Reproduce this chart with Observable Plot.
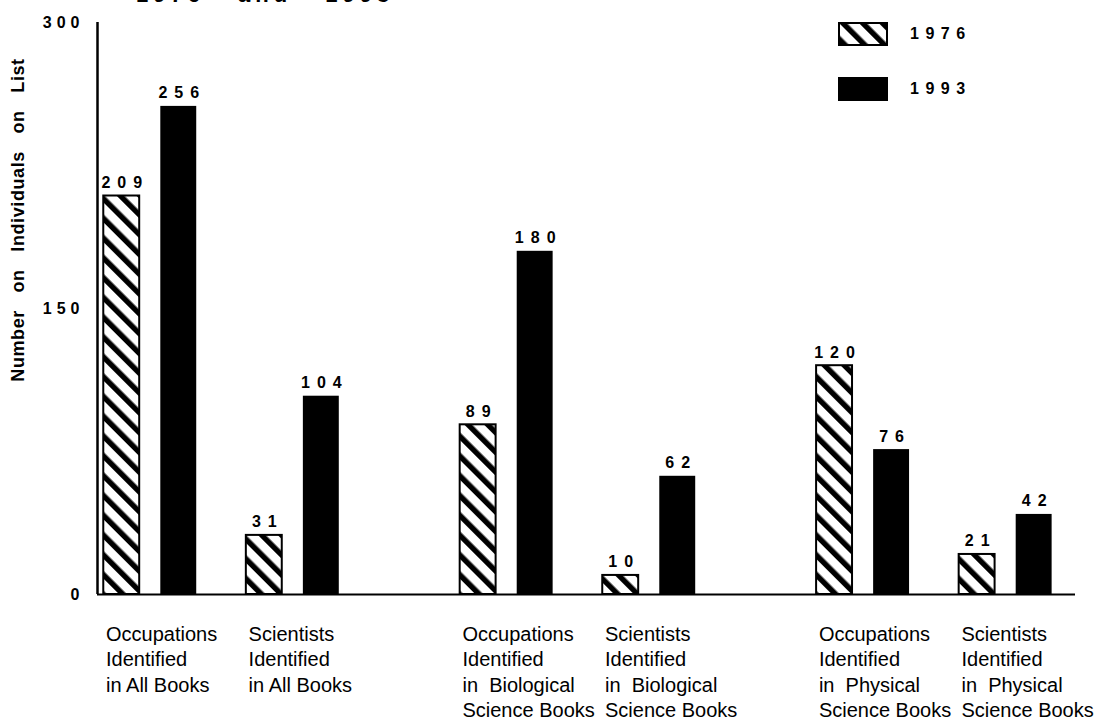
<!DOCTYPE html>
<html>
<head>
<meta charset="utf-8">
<script src="https://cdn.jsdelivr.net/npm/d3@7"></script>
<script src="https://cdn.jsdelivr.net/npm/@observablehq/plot@0.6"></script>
<style>
  html, body { margin: 0; padding: 0; background: #fff; }
  #wrap { position: relative; width: 1109px; height: 722px; overflow: hidden; font-family: "Liberation Sans", Arial, Helvetica, sans-serif; color: #000; }
  #wrap svg.chart { position: absolute; left: 0; top: 0; }
  .title-clip { position: absolute; left: 136px; top: 0; height: 4px; overflow: hidden; white-space: nowrap; }
  .title-clip span { position: relative; top: -16px; display: block; font-weight: bold; font-size: 22px; line-height: 22px; letter-spacing: 5px; word-spacing: 22px; }
  .ylabel { position: absolute; left: 18px; top: 220px; transform: translate(-50%, -50%) rotate(-90deg); white-space: nowrap; font-weight: bold; font-size: 18px; letter-spacing: 0.6px; word-spacing: 12px; }
  .legend-item { position: absolute; display: flex; align-items: center; }
  .legend-item .lab { margin-left: 22px; font-weight: bold; font-size: 16px; letter-spacing: 6.5px; }
  .vlab { letter-spacing: 7px; }
  g[aria-label="y-axis tick label"] text { letter-spacing: 5px; }
</style>
</head>
<body>
<div id="wrap"></div>
<script>
// ---- data ----
const categories = [
  "Occupations\nIdentified\nin All Books",
  "Scientists\nIdentified\nin All Books",
  "Occupations\nIdentified\nin  Biological\nScience Books",
  "Scientists\nIdentified\nin  Biological\nScience Books",
  "Occupations\nIdentified\nin  Physical\nScience Books",
  "Scientists\nIdentified\nin  Physical\nScience Books"
];
const years = ["1976", "1993"];
const values1976 = [209, 31, 89, 10, 120, 21];
const values1993 = [256, 104, 180, 62, 76, 42];
const yTicks = [0, 150, 300];
const yLabel = "Number on Individuals on List";
const titleText = "1976 and 1993";

// ---- layout helpers (pairs of categories are separated by a wider gap) ----
const pos = i => i + 0.5 * Math.floor(i / 2);
const barOffset = 0.2, halfW = 0.126;
const xDomain = [-0.37, 6.49];

const rows = [];
categories.forEach((c, i) => {
  rows.push({cat: c, i, year: years[0], value: values1976[i], x: pos(i) - barOffset});
  rows.push({cat: c, i, year: years[1], value: values1993[i], x: pos(i) + barOffset});
});
const r1976 = rows.filter(d => d.year === years[0]);
const r1993 = rows.filter(d => d.year === years[1]);
const catRows = categories.map((c, i) => ({cat: c, x: pos(i) - 0.31}));

const chart = Plot.plot({
  width: 1109,
  height: 722,
  marginTop: 22,
  marginBottom: 128,
  marginLeft: 97,
  marginRight: 34,
  style: {fontFamily: "'Liberation Sans', Arial, Helvetica, sans-serif", color: "#000", background: "#fff", overflow: "visible"},
  x: {type: "linear", domain: xDomain, axis: null},
  y: {domain: [0, 300]},
  marks: [
    Plot.axisY({ticks: yTicks, tickSize: 0, tickPadding: 13, label: null, fontSize: 16, fontWeight: "bold", tickFormat: d => String(d)}),
    Plot.rectY(r1976, {x1: d => d.x - halfW, x2: d => d.x + halfW, y: "value", fill: "url(#hatch)", stroke: "#000", strokeWidth: 2}),
    Plot.rectY(r1993, {x1: d => d.x - halfW, x2: d => d.x + halfW, y: "value", fill: "#000"}),
    Plot.text(rows, {x: "x", y: "value", text: d => String(d.value), dy: -8, dx: 3.5, lineAnchor: "bottom", fontSize: 16, fontWeight: "bold", fill: "#000"}),
    Plot.ruleX([xDomain[0]], {y1: 0, y2: 300, stroke: "#000", strokeWidth: 2.5}),
    Plot.ruleY([0], {stroke: "#000", strokeWidth: 2}),
    Plot.text(catRows, {x: "x", y: () => 0, text: "cat", textAnchor: "start", lineAnchor: "top", dy: 28, fontSize: 20, lineHeight: 1.28, fill: "#000"})
  ]
});
chart.classList.add("chart");

// letter-spaced value labels (first text mark)
d3.select(chart).selectAll('g[aria-label="text"]').filter((d, i) => i === 0).classed("vlab", true);

// hatch pattern
const defs = d3.select(chart).insert("defs", ":first-child");
const pat = defs.append("pattern")
  .attr("id", "hatch")
  .attr("patternUnits", "userSpaceOnUse")
  .attr("width", 14).attr("height", 14)
  .attr("patternTransform", "rotate(-45)");
pat.append("rect").attr("width", 14).attr("height", 14).attr("fill", "#fff");
pat.append("rect").attr("x", 0).attr("width", 5.5).attr("height", 14).attr("fill", "#000");

const wrap = document.getElementById("wrap");
wrap.appendChild(chart);

// clipped title fragment at the top edge
const t = document.createElement("div");
t.className = "title-clip";
t.innerHTML = `<span>${titleText}</span>`;
wrap.appendChild(t);

// rotated y-axis label
const yl = document.createElement("div");
yl.className = "ylabel";
yl.textContent = yLabel;
wrap.appendChild(yl);

// legend
const legendTops = [22, 77];
years.forEach((y, k) => {
  const item = document.createElement("div");
  item.className = "legend-item";
  item.style.left = "838px";
  item.style.top = legendTops[k] + "px";
  const fill = k === 0 ? "url(#hatch)" : "#000";
  item.innerHTML = `<svg width="50" height="24"><rect x="1" y="1" width="48" height="22" fill="${fill}" stroke="#000" stroke-width="2"/></svg><span class="lab">${y}</span>`;
  wrap.appendChild(item);
});
</script>
</body>
</html>
